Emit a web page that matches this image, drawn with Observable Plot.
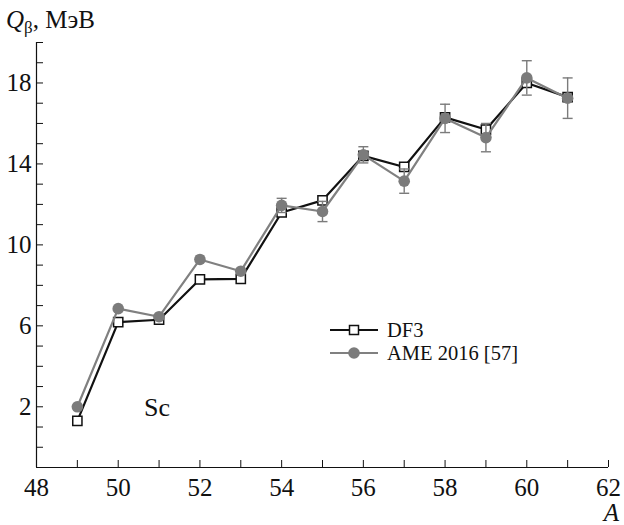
<!DOCTYPE html>
<html><head><meta charset="utf-8">
<script src="https://cdn.jsdelivr.net/npm/d3@7"></script>
<script src="https://cdn.jsdelivr.net/npm/@observablehq/plot@0.6"></script>
<style>
body{margin:0;background:#fff}
svg{display:block}
svg text, svg tspan { font-family: "Liberation Serif", "DejaVu Serif", serif !important; }
</style>
</head><body><div id="chart"></div>
<script>
const massNumbers = [49, 50, 51, 52, 53, 54, 55, 56, 57, 58, 59, 60, 61];
const df3Values   = [1.3, 6.18, 6.3, 8.3, 8.32, 11.6, 12.2, 14.4, 13.85, 16.3, 15.7, 18.0, 17.3];
const ameValues   = [2.0, 6.85, 6.45, 9.28, 8.7, 11.95, 11.65, 14.45, 13.15, 16.25, 15.3, 18.25, 17.25];
const ameErrors   = [0, 0, 0, 0, 0, 0.35, 0.5, 0.4, 0.6, 0.7, 0.7, 0.85, 1.0];
const xTickLabels = [48, 50, 52, 54, 56, 58, 60, 62];
const xMinorTicks = d3.range(48, 63, 1);
const yTickLabels = [2, 6, 10, 14, 18];
const yMinorTicks = d3.range(0, 21, 1);
const seriesNames = ["DF3", "AME 2016 [57]"];

const df3 = massNumbers.map((a, i) => ({a, v: df3Values[i]}));
const ame = massNumbers.map((a, i) => ({a, v: ameValues[i], e: ameErrors[i]}));
const withErr = ame.filter(d => d.e > 0);

const FONT = "Liberation Serif, DejaVu Serif, serif";
const GRAY = "#7b7b7b";
const capSymbol = {draw(ctx, size) { const w = 5; ctx.moveTo(-w, 0); ctx.lineTo(w, 0); }};

const chart = Plot.plot({
  width: 624, height: 525,
  marginLeft: 36, marginRight: 16, marginTop: 42, marginBottom: 58,
  style: {fontFamily: FONT, background: "#fff", color: "#111"},
  x: {domain: [48, 62]},
  y: {domain: [-1, 20]},
  marks: [
    Plot.axisX(xMinorTicks, {tickSize: -7, fill: "none", stroke: "#111"}),
    Plot.axisX(xTickLabels, {tickSize: 0, tickPadding: 11, fontSize: 25, fill: "#111", label: null}),
    Plot.axisY(yMinorTicks, {tickSize: -7, fill: "none", stroke: "#111"}),
    Plot.axisY(yTickLabels, {tickSize: 0, tickPadding: 5, fontSize: 25, fill: "#111", label: null}),
    Plot.ruleX([48], {stroke: "#111", strokeWidth: 1.2}),
    Plot.ruleY([-1], {stroke: "#111", strokeWidth: 1.2}),
    Plot.line(df3, {x: "a", y: "v", stroke: "#111", strokeWidth: 2.2}),
    Plot.dot(df3, {x: "a", y: "v", symbol: "square", r: 5.2, fill: "#fff", stroke: "#111", strokeWidth: 1.5}),
    Plot.line(ame, {x: "a", y: "v", stroke: "#808080", strokeWidth: 2.2}),
    Plot.ruleX(withErr, {x: "a", y1: d => d.v - d.e, y2: d => d.v + d.e, stroke: GRAY, strokeWidth: 1.4}),
    Plot.dot(withErr, {x: "a", y: d => d.v + d.e, symbol: capSymbol, stroke: GRAY, strokeWidth: 1.4, fill: "none"}),
    Plot.dot(withErr, {x: "a", y: d => d.v - d.e, symbol: capSymbol, stroke: GRAY, strokeWidth: 1.4, fill: "none"}),
    Plot.dot(ame, {x: "a", y: "v", r: 5.8, fill: GRAY, stroke: "none"})
  ]
});
document.getElementById("chart").appendChild(chart);

const svg = d3.select(chart);
// y-axis label
const yl = svg.append("text").attr("x", 6).attr("y", 28).attr("text-anchor", "start")
  .attr("font-family", FONT).attr("font-size", 25).attr("fill", "#111");
yl.append("tspan").attr("font-style", "italic").text("Q");
yl.append("tspan").attr("font-size", 17).attr("dy", 5).text("β");
yl.append("tspan").attr("dy", -5).text(", МэВ");
// x-axis label
svg.append("text").attr("x", 619).attr("y", 521).attr("text-anchor", "end")
  .attr("font-family", FONT).attr("font-size", 25).attr("font-style", "italic").attr("fill", "#111").text("A");
// element label
svg.append("text").attr("x", 144).attr("y", 416).attr("text-anchor", "start")
  .attr("font-family", FONT).attr("font-size", 26).attr("fill", "#111").text("Sc");
// legend
const lg = svg.append("g").attr("font-family", FONT).attr("font-size", 20.5).attr("fill", "#111").attr("text-anchor", "start");
lg.append("line").attr("x1", 330).attr("x2", 378).attr("y1", 330).attr("y2", 330).attr("stroke", "#111").attr("stroke-width", 2.2);
lg.append("rect").attr("x", 349.5).attr("y", 325.5).attr("width", 9).attr("height", 9).attr("fill", "#fff").attr("stroke", "#111").attr("stroke-width", 1.5);
lg.append("text").attr("x", 387).attr("y", 337).text(seriesNames[0]);
lg.append("line").attr("x1", 330).attr("x2", 378).attr("y1", 353).attr("y2", 353).attr("stroke", "#808080").attr("stroke-width", 2.2);
lg.append("circle").attr("cx", 354).attr("cy", 353).attr("r", 5.8).attr("fill", GRAY);
lg.append("text").attr("x", 387).attr("y", 360).text(seriesNames[1]);
</script></body></html>
